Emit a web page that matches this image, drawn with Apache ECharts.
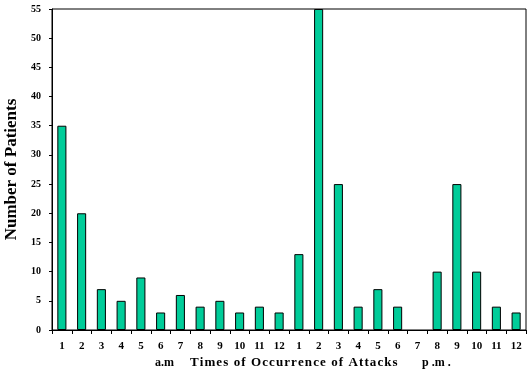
<!DOCTYPE html>
<html>
<head>
<meta charset="utf-8">
<script src="https://cdn.jsdelivr.net/npm/echarts@6/dist/echarts.min.js"></script>
<style>
html,body{margin:0;padding:0;background:#fff;}
#chart{width:532px;height:374px;}
</style>
</head>
<body>
<div id="chart"></div>
<script>
var hours = ['1','2','3','4','5','6','7','8','9','10','11','12','1','2','3','4','5','6','7','8','9','10','11','12'];
var patients = [35,20,7,5,9,3,6,4,5,3,4,3,13,55,25,4,7,4,0,10,25,10,4,3];
var yTicks = {min:0, max:55, interval:5};
var yTitle = 'Number of Patients';
var amLabel = 'a.m';
var xTitle = 'Times of Occurrence of Attacks';
var pmLabel = 'p .m .';

var FONT = "'Liberation Serif','Times New Roman',serif";
function spaced(s){ return s.split('').join('\u200A'); }
var chart = echarts.init(document.getElementById('chart'), null, {renderer:'canvas'});
chart.setOption({
  animation:false,
  backgroundColor:'#ffffff',
  grid:{left:52, top:9, right:6, bottom:44, show:true, borderColor:'#000', borderWidth:1, backgroundColor:'transparent', outerBoundsMode:'none', containLabel:false},
  xAxis:{
    type:'category', data:hours, boundaryGap:true,
    axisLine:{lineStyle:{color:'#000', width:1}},
    axisTick:{show:true, length:4, lineStyle:{color:'#000'}},
    axisLabel:{color:'#000', fontFamily:FONT, fontWeight:'bold', fontSize:11, margin:11, interval:0}
  },
  yAxis:{
    type:'value', min:yTicks.min, max:yTicks.max, interval:yTicks.interval,
    name:yTitle, nameLocation:'middle', nameGap:32,
    nameTextStyle:{color:'#000', fontFamily:FONT, fontWeight:'bold', fontSize:17},
    axisLine:{show:true, lineStyle:{color:'#000', width:1}},
    axisTick:{show:true, length:3, lineStyle:{color:'#000'}},
    splitLine:{show:false},
    axisLabel:{color:'#000', fontFamily:FONT, fontWeight:'bold', fontSize:10, margin:11}
  },
  graphic:[
    {type:'text', left:155, top:357, style:{text:amLabel, fill:'#000', font:"bold 12px "+FONT}},
    {type:'text', left:190, top:356, style:{text:spaced(xTitle), fill:'#000', font:"bold 13px "+FONT}},
    {type:'text', left:422, top:357, style:{text:pmLabel, fill:'#000', font:"bold 12px "+FONT}}
  ],
  series:[{
    type:'bar', barWidth:'46%',
    data:patients.map(function(v){ return v === 0 ? {value:v, itemStyle:{borderWidth:0}} : v; }),
    itemStyle:{color:'#00CC99', borderColor:'#000', borderWidth:1}
  }]
});
</script>
</body>
</html>
